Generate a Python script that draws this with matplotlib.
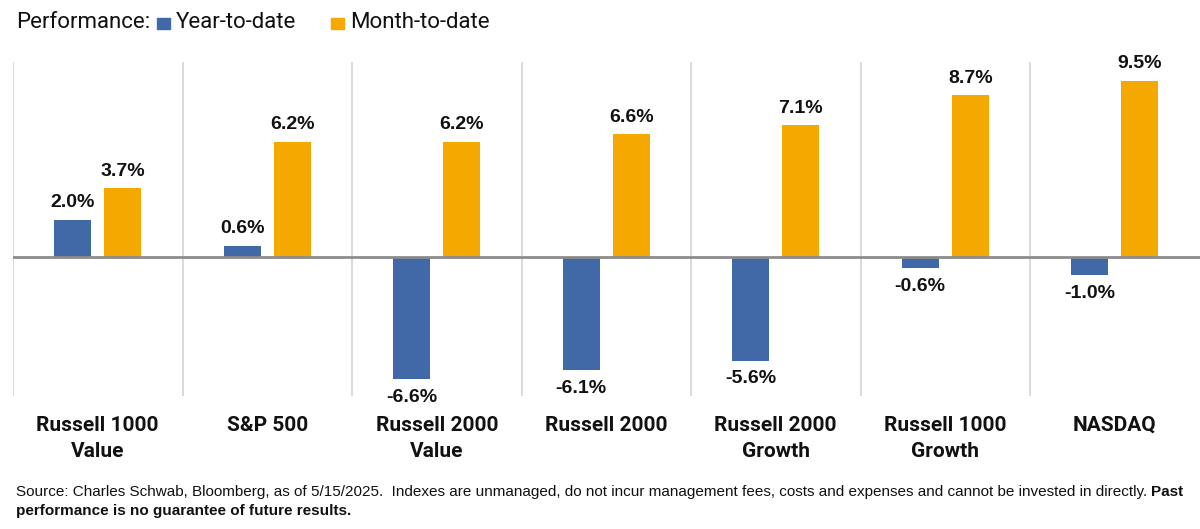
import matplotlib
matplotlib.use("Agg")
import matplotlib.pyplot as plt
from matplotlib.patches import Rectangle
import numpy as np

categories = ["Russell 1000\nValue", "S&P 500", "Russell 2000\nValue", "Russell 2000",
              "Russell 2000\nGrowth", "Russell 1000\nGrowth", "NASDAQ"]
ytd = [2.0, 0.6, -6.6, -6.1, -5.6, -0.6, -1.0]
mtd = [3.7, 6.2, 6.2, 6.6, 7.1, 8.7, 9.5]
series_names = ["Year-to-date", "Month-to-date"]

BLUE = "#4169A8"
ORANGE = "#F5A800"

W, H = 1200, 529
fig = plt.figure(figsize=(W / 100, H / 100), dpi=100)
ax = fig.add_axes([13 / W, 1 - 396 / H, (1199.5 - 13) / W, (396 - 62) / H])

x = np.arange(len(categories))
bw = 0.218
off = 0.148
ax.bar(x - off, ytd, bw, color=BLUE)
ax.bar(x + off, mtd, bw, color=ORANGE)

ax.set_xlim(-0.5, len(categories) - 0.5)
ax.set_ylim(-7.5, 10.5)

for s in ax.spines.values():
    s.set_visible(False)
ax.set_yticks([])
ax.set_xticks([])
for i in range(len(categories)):
    ax.axvline(i - 0.5, color="#D3D3D3", lw=1.2, zorder=0)
ax.axhline(0, color="#8C8C8C", lw=2, zorder=3)

lab_font = dict(fontsize=14, fontweight="bold", family="Liberation Sans", color="#111111")
for xi, v in zip(x - off, ytd):
    if v >= 0:
        ax.annotate(f"{v:.1f}%", (xi, v), xytext=(0, 6), textcoords="offset points",
                    ha="center", va="bottom", **lab_font)
    else:
        ax.annotate(f"{v:.1f}%", (xi, v), xytext=(0, -7), textcoords="offset points",
                    ha="center", va="top", **lab_font)
for xi, v in zip(x + off, mtd):
    ax.annotate(f"{v:.1f}%", (xi, v), xytext=(0, 6), textcoords="offset points",
                ha="center", va="bottom", **lab_font)

for i, c in enumerate(categories):
    fig.text((13 + (i + 0.5) * (1199.5 - 13) / len(categories)) / W, 1 - 416 / H, c,
             ha="center", va="top", fontsize=15, fontweight="bold", family="Roboto",
             color="#111111", linespacing=1.45)

# legend header
lg = dict(ha="left", va="center", fontsize=16, family="Roboto", color="#111111")
fig.text(16 / W, 1 - 23 / H, "Performance:", **lg)
fig.patches.append(Rectangle((157 / W, 1 - 29 / H), 13 / W, 11 / H, transform=fig.transFigure,
                             color=BLUE, figure=fig))
fig.text(176 / W, 1 - 23 / H, series_names[0], **lg)
fig.patches.append(Rectangle((331 / W, 1 - 29 / H), 13 / W, 11 / H, transform=fig.transFigure,
                             color=ORANGE, figure=fig))
fig.text(350 / W, 1 - 23 / H, series_names[1], **lg)

# footnote
fn1 = ("Source: Charles Schwab, Bloomberg, as of 5/15/2025.  Indexes are unmanaged, do not incur "
       "management fees, costs and expenses and cannot be invested in directly.")
ff = ["Liberation Sans Narrow", "Liberation Sans"]
t1 = fig.text(16 / W, 1 - 492 / H, fn1, ha="left", va="center", fontsize=11,
              family=ff, color="#111111")
fig.canvas.draw()
bb = t1.get_window_extent()
fig.text((bb.x1 + 4) / W, 1 - 492 / H, "Past", ha="left", va="center", fontsize=11,
         fontweight="bold", family=ff, color="#111111")
fig.text(16 / W, 1 - 511 / H, "performance is no guarantee of future results.", ha="left",
         va="center", fontsize=11, fontweight="bold", family=ff, color="#111111")

fig.savefig("out.png", dpi=100, facecolor="white")
